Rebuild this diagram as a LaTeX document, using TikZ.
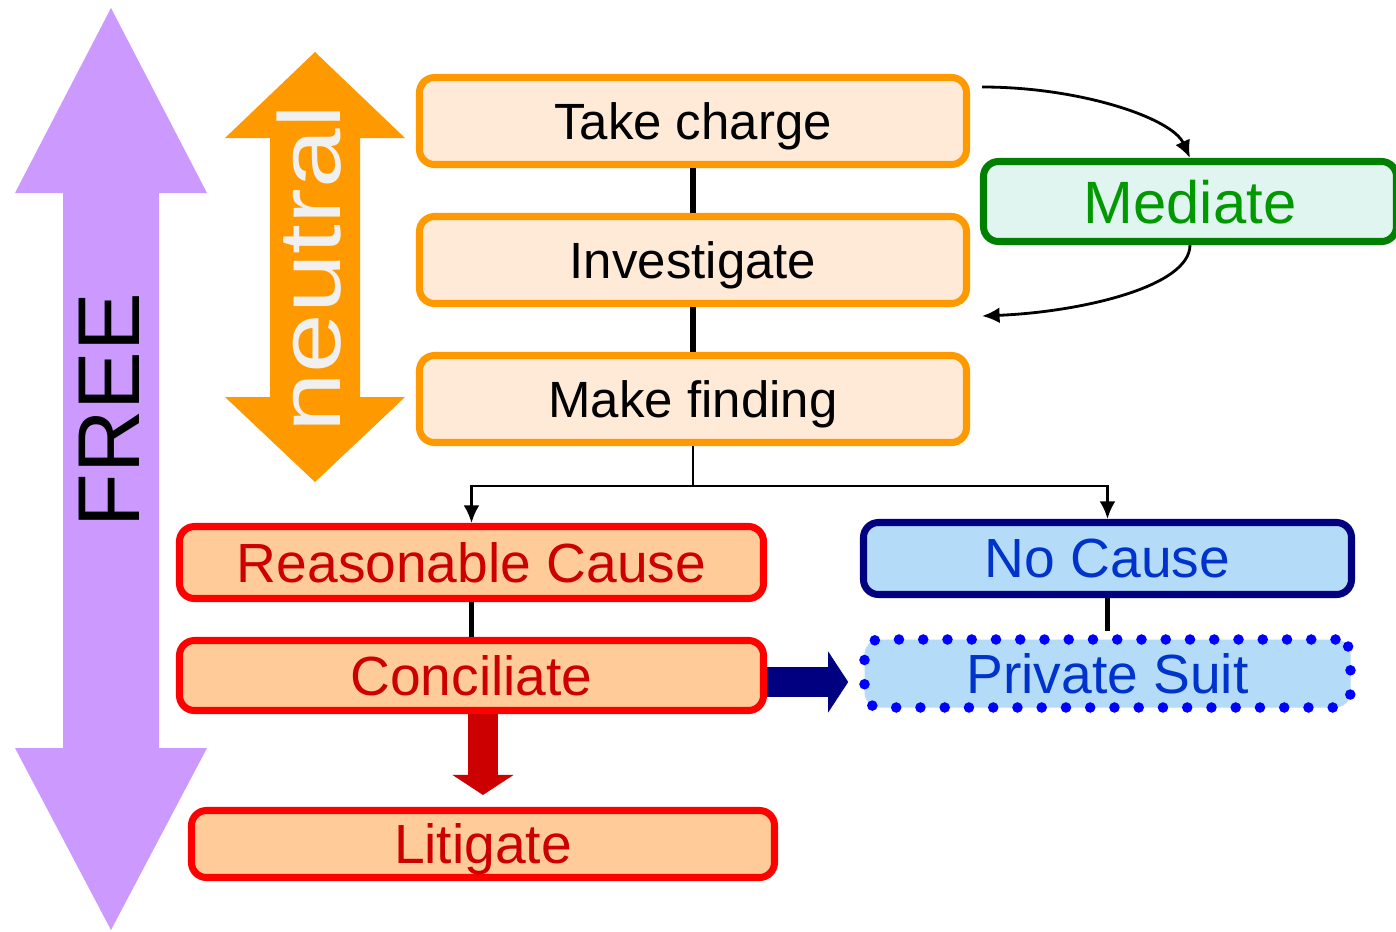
\documentclass[tikz,border=0pt]{standalone}
\usepackage{fontspec}
\setmainfont{Liberation Sans}
\usetikzlibrary{arrows.meta,calc}
\tikzset{>={Latex[length=5pt,width=4.5pt]}}
\definecolor{freepurple}{HTML}{CC99FF}
\definecolor{chargeorange}{HTML}{FF9900}
\definecolor{chargefill}{HTML}{FFEAD7}
\definecolor{mediategreen}{HTML}{008000}
\definecolor{mediatetext}{HTML}{009900}
\definecolor{mediatefill}{HTML}{E0F5EF}
\definecolor{causered}{HTML}{FF0000}
\definecolor{causetext}{HTML}{CC0000}
\definecolor{causefill}{HTML}{FFCC99}
\definecolor{suitnavy}{HTML}{000080}
\definecolor{suitblue}{HTML}{0000FF}
\definecolor{suittext}{HTML}{0033CC}
\definecolor{suitfill}{HTML}{B4DCF9}
\tikzset{
  box/.style={rectangle,rounded corners=0.15cm,line width=2pt,inner sep=0pt,text depth=0pt},
  chargebox/.style={box,draw=chargeorange,fill=chargefill,minimum width=5.47cm,minimum height=0.87cm,
    font=\fontsize{14.5}{17}\selectfont},
  mediatebox/.style={box,draw=mediategreen,fill=mediatefill,text=mediatetext,minimum width=4.13cm,minimum height=0.80cm,
    font=\fontsize{17}{20}\selectfont},
  causebox/.style={box,draw=causered,fill=causefill,text=causetext,minimum width=5.84cm,
    font=\fontsize{15.7}{18}\selectfont},
  nocausebox/.style={box,draw=suitnavy,fill=suitfill,text=suittext,minimum width=4.88cm,minimum height=0.72cm,
    font=\fontsize{15.7}{18}\selectfont},
  suitbox/.style={box,draw=suitblue,fill=suitfill,text=suittext,minimum width=4.86cm,minimum height=0.68cm,
    line width=3pt,line cap=round,dash pattern=on 0pt off 6.9pt,font=\fontsize{15.7}{18}\selectfont},
  joinline/.style={line width=1.5pt},
  thinarrow/.style={->,line width=0.8pt},
  blockarrow/.style={line width=0.3cm,-{Triangle[length=0.2cm,width=0.6cm]}}
}
\begin{document}
\begin{tikzpicture}
  \fill[white] (0,0) rectangle (13.96,-9.32);
  \useasboundingbox (0,0) rectangle (13.96,-9.32);

  \fill[freepurple] (1.11,-0.08) -- (2.07,-1.93) -- (1.59,-1.93) -- (1.59,-7.48) -- (2.07,-7.48) -- (1.11,-9.30)
    -- (0.15,-7.48) -- (0.63,-7.48) -- (0.63,-1.93) -- (0.15,-1.93) -- cycle;
  \node[anchor=base,rotate=90,font=\fontsize{25}{30}\selectfont] (free) at (1.40,-4.10) {FREE};

  \fill[chargeorange] (3.15,-0.52) -- (4.05,-1.38) -- (3.60,-1.38) -- (3.60,-3.97) -- (4.05,-3.97) -- (3.15,-4.82)
    -- (2.25,-3.97) -- (2.70,-3.97) -- (2.70,-1.38) -- (2.25,-1.38) -- cycle;
  \node[anchor=base,rotate=90,text=white!94!black,font=\fontsize{25}{30}\selectfont] (neutral) at (3.40,-2.69)
    {\scalebox{1.22}[1]{neutral}};

  \node[chargebox] (take) at (6.93,-1.21) {Take charge};
  \node[chargebox] (invest) at (6.93,-2.60) {Investigate};
  \node[chargebox] (finding) at (6.93,-3.99) {Make finding};
  \node[mediatebox] (mediate) at (11.90,-2.015) {Mediate};

  \node[causebox,minimum height=0.72cm] (reason) at (4.715,-5.625) {Reasonable Cause};
  \node[causebox,minimum height=0.70cm] (concil) at (4.715,-6.755) {Conciliate};
  \node[causebox,minimum height=0.67cm,minimum width=5.83cm] (litig) at (4.83,-8.44) {Litigate};
  \node[nocausebox] (nocause) at (11.075,-5.585) {No Cause};
  \node[suitbox] (private) at (11.075,-6.735) {Private Suit};

  \draw[joinline] (take) -- (invest);
  \draw[joinline] (invest) -- (finding);
  \draw[joinline] (reason) -- (concil);
  \draw[joinline] (nocause.south) -- ([yshift=0.03cm]private.north);

  \coordinate (split) at (6.93,-4.86);
  \draw[thinarrow] (finding.south) -- (split) -| (reason.north);
  \draw[thinarrow] (split) -| (nocause.north);

  \draw[thinarrow] ([xshift=0.12cm,yshift=-0.13cm]take.north east) .. controls +(0.98,0) and +(-0.18,0.40) .. (mediate.north);
  \draw[thinarrow] (mediate.south) .. controls +(0,-0.42) and +(0.98,0.04) .. ([xshift=0.12cm,yshift=-0.09cm]invest.south east);

  \draw[blockarrow,causetext,shorten >=0.12cm] (concil.south -| litig.north) -- (litig.north);
  \coordinate (navystart) at ([yshift=-0.065cm]concil.east);
  \draw[blockarrow,suitnavy,shorten >=0.11cm] (navystart) -- (navystart -| private.west);
\end{tikzpicture}
\end{document}
